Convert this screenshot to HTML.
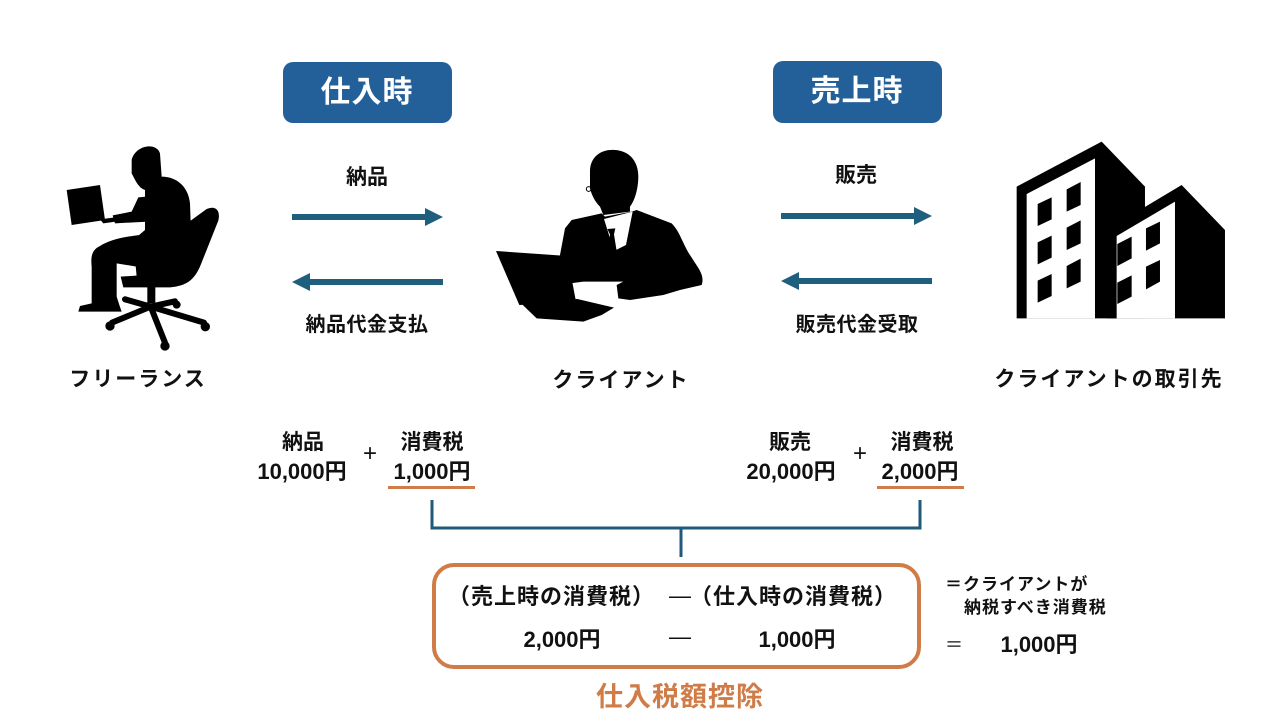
<!DOCTYPE html>
<html><head><meta charset="utf-8">
<style>
html,body{margin:0;padding:0;background:#fff;}
body{width:1280px;height:720px;position:relative;overflow:hidden;font-family:"Liberation Sans","Noto Sans CJK JP",sans-serif;}
.t{position:absolute;white-space:nowrap;text-align:center;font-weight:bold;color:#111;font-family:"Liberation Sans","Noto Sans CJK JP",sans-serif;}
svg{position:absolute;left:0;top:0;}
</style></head><body>
<svg width="1280" height="720" viewBox="0 0 1280 720">
  <!-- header boxes -->
  <rect x="283" y="62" width="169" height="61" rx="10" fill="#23609a"/>
  <rect x="773" y="61" width="169" height="62" rx="10" fill="#23609a"/>

  <!-- arrows -->
  <g fill="#1f5f7d" stroke="#1f5f7d">
    <line x1="292" y1="217" x2="428" y2="217" stroke-width="6"/>
    <polygon points="425,208 443,217 425,226" stroke="none"/>
    <line x1="307" y1="282" x2="443" y2="282" stroke-width="6"/>
    <polygon points="310,273 292,282 310,291" stroke="none"/>
    <line x1="781" y1="216" x2="917" y2="216" stroke-width="6"/>
    <polygon points="914,207 932,216 914,225" stroke="none"/>
    <line x1="796" y1="281" x2="932" y2="281" stroke-width="6"/>
    <polygon points="799,272 781,281 799,290" stroke="none"/>
  </g>

  <!-- freelancer -->
  <g transform="translate(60,140) scale(0.3333)" fill="#000">
    <path d="M20,150 L120,135 L135,240 L35,255 Z"/>
    <path d="M120,238 L195,228 L200,240 L130,250 Z"/>
    <path d="M215,60 C225,15 290,5 300,40 L305,110 C350,110 385,140 390,190 L395,330 C390,370 370,400 330,410 L230,410 L220,300 L255,270 L255,150 C240,145 235,135 228,125 L215,100 Z"/>
    <path d="M258,170 L265,245 L165,250 L158,226 L215,215 L235,172 Z"/>
    <path d="M260,283 C200,288 150,298 120,318 C95,330 92,350 95,380 L95,490 L60,498 L55,515 L185,515 L178,495 L170,470 L170,370 L260,385 Z"/>
    <path d="M388,245 L440,207 C468,195 482,212 475,242 L420,380 C402,420 380,438 330,442 L190,442 L182,410 L330,400 Z"/>
    <rect x="262" y="440" width="24" height="50"/>
    <g stroke="#000" stroke-width="18" stroke-linecap="round">
      <line x1="272" y1="500" x2="156" y2="548"/>
      <line x1="272" y1="500" x2="195" y2="478"/>
      <line x1="272" y1="500" x2="315" y2="608"/>
      <line x1="272" y1="500" x2="432" y2="548"/>
      <line x1="272" y1="500" x2="345" y2="484"/>
    </g>
    <circle cx="150" cy="558" r="14"/>
    <circle cx="315" cy="618" r="14"/>
    <circle cx="436" cy="560" r="14"/>
    <circle cx="350" cy="494" r="12"/>
  </g>

  <!-- businessman -->
  <g transform="translate(490,145) scale(0.3333)" fill="#000">
    <path d="M300,80 C300,30 340,12 375,15 C420,18 445,50 445,95 C445,130 435,165 420,185 L420,200 L340,210 L330,185 C315,170 305,150 300,130 Z"/>
    <circle cx="296" cy="132" r="7" fill="none" stroke="#000" stroke-width="3"/>
    <path d="M245,225 L335,205 L345,215 L425,200 L440,195 L545,235 C570,260 580,300 600,330 C625,370 645,390 635,420 L570,435 L520,450 L420,465 L385,460 L380,420 L400,410 L280,410 L240,415 L210,330 L225,250 Z"/>
    <path d="M342,222 L428,200 L408,300 L372,318 Z" fill="#fff"/>
    <path d="M352,252 L376,250 L372,268 L380,318 L366,332 L354,318 L360,268 Z"/>
    <path d="M18,318 L232,333 L258,470 L88,480 Z"/>
    <path d="M88,470 L262,462 L372,488 L335,510 L280,530 L140,520 Z"/>
  </g>

  <!-- buildings -->
  <g transform="translate(960,120) scale(0.3333)">
    <polygon points="170,200 425,65 555,200 555,595 170,595" fill="#000"/>
    <polygon points="200,222 405,115 405,595 200,595" fill="#fff"/>
    <g fill="#000">
      <polygon points="233,252 275,232 275,298 233,318"/>
      <polygon points="320,208 362,186 362,255 320,275"/>
      <polygon points="233,367 275,347 275,413 233,433"/>
      <polygon points="320,323 362,301 362,370 320,390"/>
      <polygon points="233,482 275,462 275,528 233,548"/>
      <polygon points="320,438 362,416 362,485 320,505"/>
    </g>
    <polygon points="440,330 665,195 795,330 795,595 440,595" fill="#000"/>
    <polygon points="470,348 645,245 645,595 470,595" fill="#fff"/>
    <g fill="#000">
      <polygon points="472,372 515,350 515,415 472,438"/>
      <polygon points="558,325 600,305 600,370 558,392"/>
      <polygon points="472,488 515,466 515,530 472,552"/>
      <polygon points="558,440 600,420 600,485 558,508"/>
    </g>
  </g>

  <!-- underlines -->
  <rect x="388" y="486" width="87" height="3" fill="#d07c48"/>
  <rect x="877" y="486" width="87" height="3" fill="#d07c48"/>

  <!-- bracket -->
  <g stroke="#1f5a7a" stroke-width="3" fill="none">
    <polyline points="432,500 432,528 920,528 920,500"/>
    <line x1="681" y1="528" x2="681" y2="557"/>
  </g>

  <!-- orange box -->
  <rect x="434" y="565" width="485" height="102" rx="20" fill="none" stroke="#d07c48" stroke-width="4"/>
</svg>

<!-- header labels -->
<div class="t" style="left:267px;top:74px;width:200px;line-height:38px;font-size:30px;color:#fff;letter-spacing:1px;">仕入時</div>
<div class="t" style="left:757px;top:73px;width:200px;line-height:38px;font-size:30px;color:#fff;letter-spacing:1px;">売上時</div>

<!-- arrow labels -->
<div class="t" style="left:267px;top:164px;width:200px;line-height:28px;font-size:21px;">納品</div>
<div class="t" style="left:267px;top:311px;width:200px;line-height:28px;font-size:20px;letter-spacing:0.5px;">納品代金支払</div>
<div class="t" style="left:756px;top:162px;width:200px;line-height:28px;font-size:21px;">販売</div>
<div class="t" style="left:757px;top:311px;width:200px;line-height:28px;font-size:20px;letter-spacing:0.5px;">販売代金受取</div>

<!-- entity labels -->
<div class="t" style="left:38px;top:366px;width:200px;line-height:28px;font-size:21px;letter-spacing:2px;">フリーランス</div>
<div class="t" style="left:521px;top:367px;width:200px;line-height:28px;font-size:21px;letter-spacing:2px;">クライアント</div>
<div class="t" style="left:959px;top:366px;width:300px;line-height:28px;font-size:21px;letter-spacing:2px;">クライアントの取引先</div>

<!-- bottom left -->
<div class="t" style="left:203px;top:429px;width:200px;line-height:28px;font-size:21px;">納品</div>
<div class="t" style="left:202px;top:458px;width:200px;line-height:28px;font-size:22px;">10,000円</div>
<div class="t" style="left:355px;top:440px;width:30px;line-height:28px;font-size:24px;font-weight:normal;">+</div>
<div class="t" style="left:332px;top:429px;width:200px;line-height:28px;font-size:21px;">消費税</div>
<div class="t" style="left:332px;top:458px;width:200px;line-height:28px;font-size:22px;">1,000円</div>

<!-- bottom right -->
<div class="t" style="left:690px;top:429px;width:200px;line-height:28px;font-size:21px;">販売</div>
<div class="t" style="left:691px;top:458px;width:200px;line-height:28px;font-size:22px;">20,000円</div>
<div class="t" style="left:845px;top:440px;width:30px;line-height:28px;font-size:24px;font-weight:normal;">+</div>
<div class="t" style="left:822px;top:429px;width:200px;line-height:28px;font-size:21px;">消費税</div>
<div class="t" style="left:820px;top:458px;width:200px;line-height:28px;font-size:22px;">2,000円</div>

<!-- box contents -->
<div class="t" style="left:448px;top:583px;width:230px;line-height:28px;font-size:22px;letter-spacing:1px;text-align:left;">（売上時の消費税）</div>
<div class="t" style="left:665px;top:582px;width:30px;line-height:28px;font-size:22px;font-weight:normal;">—</div>
<div class="t" style="left:690px;top:583px;width:230px;line-height:28px;font-size:22px;letter-spacing:1px;text-align:left;">（仕入時の消費税）</div>
<div class="t" style="left:462px;top:626px;width:200px;line-height:28px;font-size:22px;">2,000円</div>
<div class="t" style="left:665px;top:623px;width:30px;line-height:28px;font-size:22px;font-weight:normal;">—</div>
<div class="t" style="left:697px;top:626px;width:200px;line-height:28px;font-size:22px;">1,000円</div>

<!-- caption -->
<div class="t" style="left:530px;top:681px;width:300px;line-height:32px;font-size:27px;color:#d07c48;letter-spacing:1px;">仕入税額控除</div>

<!-- right result -->
<div class="t" style="left:945px;top:573px;width:200px;line-height:24px;font-size:17px;text-align:left;letter-spacing:1px;">＝クライアントが</div>
<div class="t" style="left:964px;top:596px;width:200px;line-height:24px;font-size:17px;text-align:left;letter-spacing:1px;">納税すべき消費税</div>
<div class="t" style="left:945px;top:633px;width:30px;line-height:24px;font-size:18px;text-align:left;font-weight:normal;">＝</div>
<div class="t" style="left:939px;top:631px;width:200px;line-height:28px;font-size:22px;">1,000円</div>
</body></html>
